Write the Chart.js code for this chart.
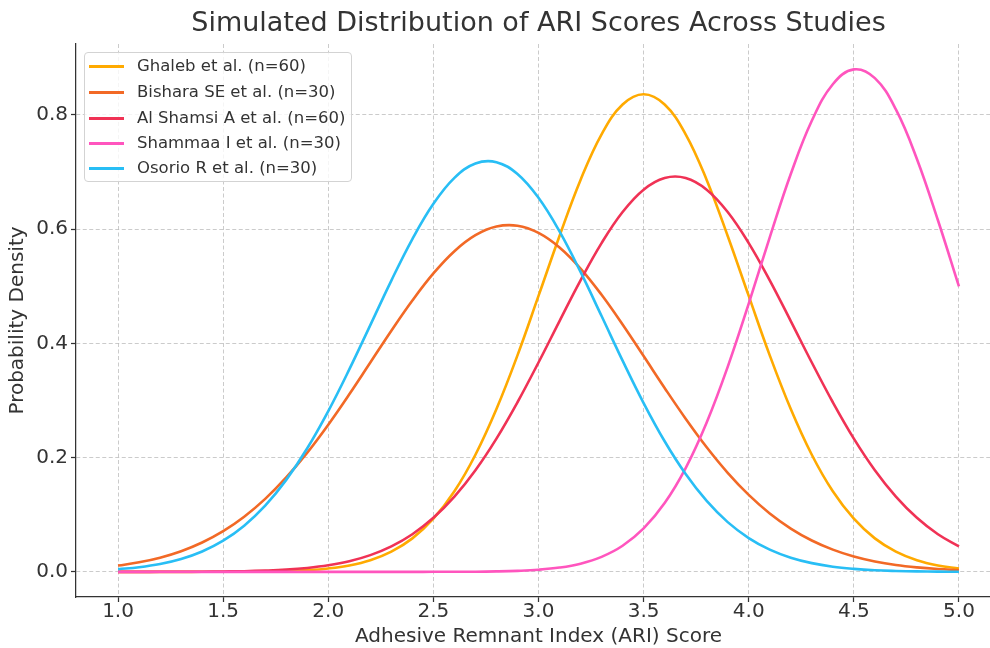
<!DOCTYPE html>
<html><head><meta charset="utf-8">
<script src="https://cdn.jsdelivr.net/npm/chart.js@4.4.0/dist/chart.umd.min.js"></script>
<style>
html,body{margin:0;padding:0;background:#fff;overflow:hidden;width:990px;height:648px;}
#wrap{position:relative;width:1002px;height:648px;}
#legend{position:absolute;left:84px;top:52px;width:268px;height:130px;border:1px solid #d3d3d3;border-radius:4px;background:rgba(255,255,255,0.8);font-family:"DejaVu Sans";font-size:16.5px;color:#333;box-sizing:border-box;}
.row{position:absolute;left:0;height:20px;width:260px;}
.sw{position:absolute;left:4px;top:9px;width:35px;height:2.6px;}
.lb{position:absolute;left:52px;top:0;line-height:20px;white-space:nowrap;}
</style>
</head><body>
<div id="wrap">
<canvas id="c" width="1002" height="648"></canvas>
<div id="legend"></div>
</div>
<script>
const titleText = "Simulated Distribution of ARI Scores Across Studies";
const xLabel = "Adhesive Remnant Index (ARI) Score";
const yLabel = "Probability Density";
const seriesLabels = ["Ghaleb et al. (n=60)", "Bishara SE et al. (n=30)", "Al Shamsi A et al. (n=60)", "Shammaa I et al. (n=30)", "Osorio R et al. (n=30)"];
const seriesColors = ["rgb(255,170,0)", "rgb(242,105,38)", "rgb(240,50,85)", "rgb(255,85,190)", "rgb(40,190,245)"];

const xValues = [1.0,1.1,1.2,1.3,1.4,1.5,1.6,1.7,1.8,1.9,2.0,2.1,2.2,2.3,2.4,2.5,2.6,2.7,2.8,2.9,3.0,3.1,3.2,3.3,3.4,3.5,3.6,3.7,3.8,3.9,4.0,4.1,4.2,4.3,4.4,4.5,4.6,4.7,4.8,4.9,5.0];

const ghaleb = [0,0,0,0,0.0001,0.0001,0.0003,0.0007,0.0015,0.003,0.006,
  0.0113,0.0204,0.0354,0.0586,0.093,0.141,0.205,0.285,0.379,0.483,
  0.588,0.686,0.766,0.818,0.836,0.818,0.766,0.686,0.588,0.483,
  0.379,0.285,0.205,0.141,0.093,0.0586,0.0354,0.0204,0.0113,0.006];
const bishara = [0.0110,0.0168,0.0249,0.0362,0.0514,0.0712,0.0965,0.1277,0.1652,0.2087,0.2577,
  0.3109,0.3665,0.4221,0.4750,0.5224,0.5613,0.5893,0.6045,0.6059,0.5933,
  0.5678,0.5309,0.4850,0.4330,0.3777,0.3219,0.2681,0.2181,0.1734,0.1347,
  0.1022,0.0758,0.0549,0.0389,0.0269,0.0182,0.0120,0.0078,0.0049,0.0030];
const alShamsi = [0,0,0.0001,0.0002,0.0003,0.0007,0.0012,0.0023,0.0040,0.0069,0.0115,
  0.0186,0.0293,0.0446,0.0659,0.0947,0.1318,0.1780,0.2333,0.2969,0.3665,
  0.4390,0.5103,0.5755,0.6299,0.6690,0.6894,0.6894,0.6690,0.6299,0.5755,
  0.5103,0.4390,0.3665,0.2969,0.2333,0.1780,0.1318,0.0947,0.0659,0.0446];
const shammaa = [0,0,0,0,0,0,0,0,0,0,0,
  0,0,0,0,0.0001,0.0001,0.0003,0.0008,0.0018,0.0037,
  0.0075,0.0144,0.0263,0.0457,0.0760,0.1204,0.1817,0.2615,0.3589,0.4696,
  0.5856,0.6964,0.7896,0.8536,0.8796,0.8642,0.8095,0.7228,0.6155,0.4996];
const osorio = [0.0047,0.0082,0.0138,0.0226,0.0357,0.0546,0.0809,0.1159,0.1610,0.2163,0.2814,
  0.3544,0.4320,0.5099,0.5825,0.6442,0.6897,0.7148,0.7171,0.6965,0.6548,
  0.5960,0.5250,0.4478,0.3697,0.2955,0.2286,0.1712,0.1242,0.0871,0.0592,
  0.0389,0.0248,0.0153,0.0091,0.0053,0.0029,0.0016,0.0008,0.0004,0.0002];

const seriesValues = [ghaleb, bishara, alShamsi, shammaa, osorio];
const xTickStep = 0.5, yTickStep = 0.2;

Chart.defaults.font.family = "'DejaVu Sans', sans-serif";
Chart.defaults.color = "#333";

const datasets = seriesValues.map((vals, i) => ({
  label: seriesLabels[i],
  data: xValues.map((x, j) => ({x: x, y: vals[j]})),
  borderColor: seriesColors[i],
  backgroundColor: seriesColors[i],
  borderWidth: 2.6,
  pointRadius: 0,
  tension: 0.4,
  fill: false,
  order: seriesValues.length - 1 - i
}));

const gridColor = "rgba(185,185,185,0.75)";

new Chart(document.getElementById("c"), {
  type: "line",
  data: {datasets: datasets},
  options: {
    responsive: false,
    animation: false,
    devicePixelRatio: 1,
    layout: {padding: {left: 0, right: 1, top: 0, bottom: 0}},
    plugins: {
      legend: {display: false},
      tooltip: {enabled: false},
      title: {
        display: true, text: titleText, fullSize: false,
        font: {size: 27, weight: "normal", lineHeight: 1.0},
        color: "#333",
        padding: {top: 10.5, bottom: 6.5}
      }
    },
    scales: {
      x: {
        type: "linear", min: 0.8, max: 5.2,
        ticks: {stepSize: xTickStep, includeBounds: false, font: {size: 20, lineHeight: 1.0}, color: "#333", padding: 0,
          callback: v => Number(v).toFixed(1)},
        grid: {color: gridColor, lineWidth: 1, tickColor: "#333", tickLength: 5, tickWidth: 1.25},
        border: {display: true, color: "#333", width: 1.25, dash: [4, 2.5]},
        title: {display: true, text: xLabel, font: {size: 20, lineHeight: 1.0}, color: "#333", padding: {top: 0, bottom: 1}},
        afterFit: s => { s.height = 51; }
      },
      y: {
        type: "linear", min: -0.044, max: 0.924,
        ticks: {stepSize: yTickStep, includeBounds: false, font: {size: 20, lineHeight: 1.0}, color: "#333", padding: 3,
          callback: v => Number(v).toFixed(1)},
        grid: {color: gridColor, lineWidth: 1, tickColor: "#333", tickLength: 5, tickWidth: 1.25},
        border: {display: true, color: "#333", width: 1.25, dash: [4, 2.5]},
        title: {display: true, text: yLabel, font: {size: 20, lineHeight: 1.0}, color: "#333", padding: {top: 8, bottom: 0}},
        afterFit: s => { s.width = 76; }
      }
    }
  }
});

const leg = document.getElementById("legend");
const rowCenters = [13, 39, 65, 90, 115];
seriesLabels.forEach((lab, i) => {
  const r = document.createElement("div");
  r.className = "row";
  r.style.top = (rowCenters[i] - 10) + "px";
  const sw = document.createElement("div");
  sw.className = "sw";
  sw.style.background = seriesColors[i];
  const t = document.createElement("div");
  t.className = "lb";
  t.textContent = lab;
  r.appendChild(sw); r.appendChild(t);
  leg.appendChild(r);
});
</script>
</body></html>
